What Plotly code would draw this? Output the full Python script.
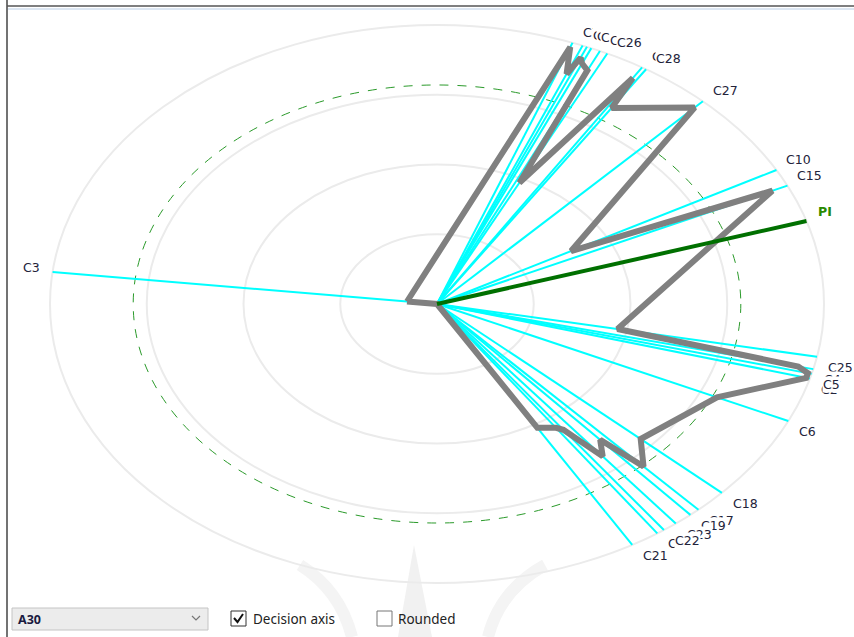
import numpy as np
import plotly.graph_objects as go

# ---------------- data ----------------
alternative = "A30"
criteria = ["C3", "C7", "C8", "C12", "C14", "C16", "C26", "C24", "C28", "C27",
            "C10", "C15", "C25", "C4", "C2", "C5", "C6", "C18", "C17", "C19",
            "C23", "C20", "C22", "C21"]
angles_deg = [173.4, 69.5, 67.9, 67.2, 66.5, 65.1, 63.9, 58.0, 57.3, 46.6,
              28.7, 25.1, -10.9, -13.5, -15.5, -14.5, -24.8, -42.6, -47.5, -49.1,
              -51.9, -55.3, -54.1, -59.7]
axis_lengths = [1.0] * len(criteria)
a30_values = [0.078, 0.983, 0.89, 0.958, 0.94, 0.923, 0.484, 0.955, 0.835, 0.969,
              0.395, 0.957, 0.475, 0.96, 0.99, 0.99, 0.797, 0.715, 0.79, 0.644,
              0.694, 0.54, 0.557, 0.514]
pi_label = "PI"
pi_angle_deg = 17.3
pi_length = 1.0
ring_radii = [0.25, 0.5, 0.75, 1.0]
pi_circle_radius = 0.785

# ---------------- geometry of the view ----------------
W, H = 854, 637
CX, CY = 437, 304      # centre in pixels
SX, SY = 387, 279      # pixels per unit (x, y)
x_range = [-CX / SX, (W - CX) / SX]
y_range = [-(H - CY) / SY, CY / SY]

th = np.radians(angles_deg)
L = np.array(axis_lengths)
ex, ey = L * np.cos(th), L * np.sin(th)

fig = go.Figure()


def pxx(x):
    return x / W


def pxy(y):
    return 1 - y / H


# faint watermark (background)
shapes = []
wm = dict(color="#f4f4f4", width=12)
shapes += [
    dict(type="path", xref="paper", yref="paper", layer="below", line=wm,
         path=f"M {pxx(300)} {pxy(565)} Q {pxx(340)} {pxy(590)} {pxx(352)} {pxy(637)}"),
    dict(type="path", xref="paper", yref="paper", layer="below", line=wm,
         path=f"M {pxx(545)} {pxy(565)} Q {pxx(500)} {pxy(590)} {pxx(488)} {pxy(637)}"),
    dict(type="path", xref="paper", yref="paper", layer="below", line=dict(width=0),
         fillcolor="#f1f1f1",
         path=f"M {pxx(398)} {pxy(637)} L {pxx(414)} {pxy(545)} L {pxx(432)} {pxy(637)} Z"),
]

# rings
for r in ring_radii:
    shapes.append(dict(type="circle", xref="x", yref="y", x0=-r, x1=r, y0=-r, y1=r,
                       line=dict(color="#ebebeb", width=2), layer="below"))
shapes.append(dict(type="circle", xref="x", yref="y", x0=-pi_circle_radius, x1=pi_circle_radius,
                   y0=-pi_circle_radius, y1=pi_circle_radius,
                   line=dict(color="#2a9a2a", width=1, dash="dash"), layer="below"))

# criterion axes
lx, ly = [], []
for x1, y1 in zip(ex, ey):
    lx += [0, x1, None]
    ly += [0, y1, None]
fig.add_trace(go.Scatter(x=lx, y=ly, mode="lines", line=dict(color="#00ffff", width=2),
                         hoverinfo="skip", showlegend=False))

# alternative profile
order = np.argsort(-np.array(angles_deg))
v = np.array(a30_values)
px_ = list(v[order] * np.cos(th[order])) + [0.0]
py_ = list(v[order] * np.sin(th[order])) + [0.0]
px_.append(px_[0]); py_.append(py_[0])
fig.add_trace(go.Scatter(x=px_, y=py_, mode="lines", line=dict(color="#808080", width=6),
                         hoverinfo="skip", showlegend=False))

# decision axis
pt = np.radians(pi_angle_deg)
fig.add_trace(go.Scatter(x=[0, pi_length * np.cos(pt)], y=[0, pi_length * np.sin(pt)],
                         mode="lines", line=dict(color="#007000", width=4),
                         hoverinfo="skip", showlegend=False))

# labels
annotations = []
lab_font = dict(family="DejaVu Sans", size=12.5, color="#23233a")
for name, x1, y1 in zip(criteria, ex, ey):
    if x1 < 0:
        annotations.append(dict(x=x1, y=y1, text=name, showarrow=False, xanchor="right",
                                yanchor="middle", xshift=-12, yshift=4, font=lab_font,
                                bgcolor="white", borderpad=0))
    elif y1 >= 0:
        annotations.append(dict(x=x1, y=y1, text=name, showarrow=False, xanchor="left",
                                yanchor="bottom", xshift=9, yshift=2, font=lab_font,
                                bgcolor="white", borderpad=0))
    else:
        annotations.append(dict(x=x1, y=y1, text=name, showarrow=False, xanchor="left",
                                yanchor="top", xshift=10, yshift=-2, font=lab_font,
                                bgcolor="white", borderpad=0))
annotations.append(dict(x=pi_length * np.cos(pt), y=pi_length * np.sin(pt), text="<b>" + pi_label + "</b>",
                        showarrow=False, xanchor="left", yanchor="bottom", xshift=10, yshift=0,
                        font=dict(family="DejaVu Sans", size=12.5, color="#2a8a00")))

# ---------------- window chrome ----------------
shapes += [
    dict(type="line", xref="paper", yref="paper", x0=pxx(7), x1=pxx(7), y0=pxy(0), y1=pxy(H),
         line=dict(color="#444444", width=1.5)),
    dict(type="line", xref="paper", yref="paper", x0=pxx(7), x1=pxx(W), y0=pxy(6), y1=pxy(6),
         line=dict(color="#555555", width=1.5)),
    dict(type="line", xref="paper", yref="paper", x0=pxx(8), x1=pxx(W), y0=pxy(9), y1=pxy(9),
         line=dict(color="#dce6f2", width=2)),
    # dropdown
    dict(type="rect", xref="paper", yref="paper", x0=pxx(12), x1=pxx(208), y0=pxy(630), y1=pxy(608),
         line=dict(color="#c4c4c4", width=1), fillcolor="#ececec"),
    dict(type="path", xref="paper", yref="paper",
         path=f"M {pxx(192)} {pxy(616)} L {pxx(196)} {pxy(620)} L {pxx(200)} {pxy(616)}",
         line=dict(color="#777777", width=1.2)),
    # checked box
    dict(type="rect", xref="paper", yref="paper", x0=pxx(231), x1=pxx(246), y0=pxy(626), y1=pxy(611),
         line=dict(color="#333333", width=1), fillcolor="white"),
    dict(type="path", xref="paper", yref="paper",
         path=f"M {pxx(234)} {pxy(618)} L {pxx(237.5)} {pxy(622)} L {pxx(243)} {pxy(614)}",
         line=dict(color="#111111", width=2)),
    # unchecked box
    dict(type="rect", xref="paper", yref="paper", x0=pxx(377), x1=pxx(392), y0=pxy(626), y1=pxy(611),
         line=dict(color="#777777", width=1), fillcolor="white"),
]
ui_font = dict(family="Noto Sans", size=13.5, color="#222222")
annotations += [
    dict(xref="paper", yref="paper", x=pxx(16), y=pxy(619), text="<b>" + alternative + "</b>", showarrow=False,
         xanchor="left", yanchor="middle", font=dict(family="Noto Sans", size=12.5, color="#1a1a40")),
    dict(xref="paper", yref="paper", x=pxx(251), y=pxy(619), text="Decision axis", showarrow=False,
         xanchor="left", yanchor="middle", font=ui_font),
    dict(xref="paper", yref="paper", x=pxx(396), y=pxy(619), text="Rounded", showarrow=False,
         xanchor="left", yanchor="middle", font=ui_font),
]

fig.update_layout(
    width=W, height=H, margin=dict(l=0, r=0, t=0, b=0),
    paper_bgcolor="white", plot_bgcolor="white",
    xaxis=dict(range=x_range, visible=False, fixedrange=True),
    yaxis=dict(range=y_range, visible=False, fixedrange=True),
    shapes=shapes, annotations=annotations, showlegend=False,
)
fig.write_html("out.html", config={"displayModeBar": False},
               post_script="document.body.style.margin='0px';document.body.style.overflow='hidden';")
